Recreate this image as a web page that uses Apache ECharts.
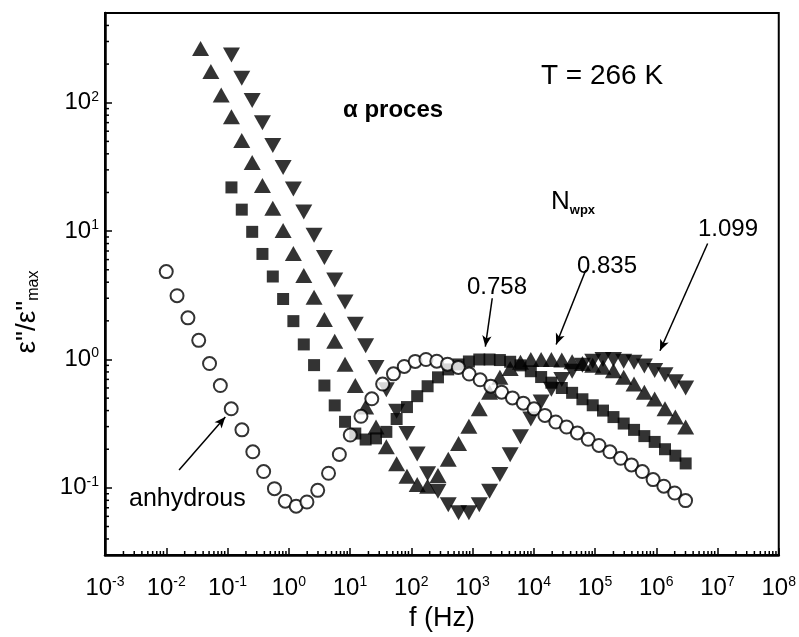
<!DOCTYPE html>
<html>
<head>
<meta charset="utf-8">
<script src="https://cdn.jsdelivr.net/npm/echarts@6/dist/echarts.min.js"></script>
<style>
  html, body { margin: 0; padding: 0; background: #fff; }
  #chart { width: 799px; height: 637px; }
</style>
</head>
<body>
<div id="chart"></div>
<script>
// anhydrous sample, frequency grid of the measurement (Hz)
const freqAnhydrous = [0.01, 0.0150, 0.0226, 0.0339, 0.0509, 0.0764, 0.115, 0.172, 0.259, 0.389,
  0.584, 0.877, 1.32, 1.98, 2.97, 4.46, 6.70, 10.1, 15.1, 22.7, 34.1, 51.2, 76.9, 116, 174, 261,
  391, 588, 883, 1330, 1990, 2990, 4490, 6750, 10100, 15200, 22900, 34300, 51500, 77400, 116000,
  175000, 262000, 394000, 592000, 888000, 1330000, 2000000, 3010000];
const anhydrous = [4.84, 3.14, 2.11, 1.41, 0.93, 0.627, 0.413, 0.283, 0.191, 0.134, 0.0986, 0.0787,
  0.072, 0.0776, 0.0957, 0.130, 0.182, 0.258, 0.361, 0.494, 0.644, 0.773, 0.883, 0.966, 1.0, 0.97,
  0.92, 0.867, 0.77, 0.695, 0.62, 0.556, 0.502, 0.457, 0.413, 0.367, 0.326, 0.298, 0.268, 0.239,
  0.214, 0.191, 0.170, 0.151, 0.134, 0.116, 0.103, 0.0912, 0.0796];

// hydrated samples, frequency grid (Hz)
const freqHydrated = [0.0363, 0.0535, 0.0789, 0.116, 0.171, 0.253, 0.372, 0.549, 0.809, 1.19,
  1.76, 2.59, 3.82, 5.63, 8.30, 12.2, 18.0, 26.6, 39.2, 57.7, 85.1, 125, 185, 273, 402, 592, 873,
  1290, 1900, 2800, 4120, 6070, 8950, 13200, 19400, 28700, 42300, 62300, 91800, 135000, 200000,
  294000, 434000, 639000, 942000, 1390000, 2050000, 3020000];
const nwpx0758 = [null, null, null, 21.9, 14.7, 9.87, 6.64, 4.43, 2.96, 1.99, 1.31, 0.904, 0.627,
  0.439, 0.327, 0.265, 0.238, 0.243, 0.273, 0.344, 0.426, 0.518, 0.619, 0.726, 0.837, 0.915, 0.965,
  1.0, 1.0, 0.99, 0.96, 0.90, 0.81, 0.73, 0.66, 0.60, 0.55, 0.49, 0.44, 0.40, 0.356, 0.317, 0.283,
  0.253, 0.228, 0.20, 0.178, 0.155];
const nwpx0835 = [264, 175, 115, 77.6, 50.9, 34.2, 22.7, 15.1, 10.1, 6.70, 4.51, 3.05, 2.05, 1.39,
  0.92, 0.627, 0.426, 0.298, 0.209, 0.154, 0.123, 0.106, 0.103, 0.125, 0.167, 0.222, 0.302, 0.413,
  0.556, 0.726, 0.85, 0.95, 1.0, 1.0, 1.0, 0.99, 0.96, 0.93, 0.90, 0.87, 0.818, 0.726, 0.644, 0.556,
  0.493, 0.413, 0.356, 0.298];
const nwpx1099 = [null, null, null, 235, 155, 104, 69.7, 46.5, 31.3, 21.3, 14.1, 9.29, 6.24, 4.17,
  2.80, 1.88, 1.28, 0.867, 0.581, 0.396, 0.265, 0.184, 0.129, 0.094, 0.074, 0.064, 0.064, 0.074,
  0.094, 0.127, 0.181, 0.25, 0.344, 0.466, 0.586, 0.70, 0.81, 0.90, 0.97, 1.0, 1.0, 0.97, 0.95,
  0.89, 0.82, 0.76, 0.67, 0.60];

// annotation arrows: [from, to] in data coordinates (f, eps''/eps''max)
const arrowNotes = [
  [[2100, 3.0], [1620, 1.26]],
  [[70800, 4.98], [23200, 1.31]],
  [[6.9e6, 8.0], [1.15e6, 1.17]],
  [[0.0162, 0.138], [0.092, 0.356]]
];

const FONT = '"Liberation Sans", Arial, Helvetica, sans-serif';

function pairs(fs, vs) {
  const out = [];
  vs.forEach((v, i) => { if (v != null) out.push([fs[i], v]); });
  return out;
}

function powLabel(v) {
  const e = Math.log10(v);
  const r = Math.round(e);
  if (Math.abs(e - r) > 1e-6) return '';
  return '{b|10}{s|' + r + '}';
}

const labelRich = {
  b: { fontSize: 24, fontFamily: FONT, color: '#000', lineHeight: 26 },
  s: { fontSize: 14, fontFamily: FONT, color: '#000', lineHeight: 26, verticalAlign: 'top' }
};

// minor tick positions of the log axes
const xMinor = [];
for (let n = -3; n <= 7; n++) for (let m = 2; m <= 9; m++) xMinor.push(m * Math.pow(10, n));
const yMinor = [];
for (let n = -2; n <= 2; n++) for (let m = 2; m <= 9; m++) {
  const v = m * Math.pow(10, n);
  if (v > 0.03 && v < 500) yMinor.push(v);
}

const chart = echarts.init(document.getElementById('chart'));

const option = {
  animation: false,
  backgroundColor: '#fff',
  grid: {
    left: 105, right: 12, top: 13, bottom: 79,
    show: true, borderColor: '#000', borderWidth: 2, backgroundColor: 'transparent'
  },
  xAxis: {
    type: 'log',
    logBase: 10,
    min: 0.001,
    max: 1e8,
    interval: 1,
    splitNumber: 11,
    name: 'f (Hz)',
    nameLocation: 'middle',
    nameGap: 50,
    nameTextStyle: { fontSize: 27, fontFamily: FONT, color: '#000' },
    axisLine: { lineStyle: { color: '#000', width: 2.5 } },
    axisTick: { inside: true, length: 7, lineStyle: { color: '#000', width: 1.5 } },
    axisLabel: { margin: 20, formatter: powLabel, rich: labelRich },
    splitLine: { show: false }
  },
  yAxis: {
    type: 'log',
    logBase: 10,
    min: 0.03,
    max: 500,
    axisLine: { lineStyle: { color: '#000', width: 2.5 } },
    axisTick: { inside: true, length: 7, lineStyle: { color: '#000', width: 1.5 } },
    axisLabel: { margin: 6, formatter: powLabel, rich: labelRich },
    splitLine: { show: false }
  },
  graphic: [
    {
      type: 'text', x: 27, y: 312, rotation: Math.PI / 2,
      style: {
        text: '{a|ε"/ε"}{m|max}',
        align: 'center', verticalAlign: 'middle',
        rich: {
          a: { fontSize: 28, fontFamily: FONT, fill: '#000', lineHeight: 30 },
          m: { fontSize: 16, fontFamily: FONT, fill: '#000', lineHeight: 30, verticalAlign: 'bottom' }
        }
      }
    },
    { type: 'text', x: 602, y: 76, style: { text: 'T = 266 K', font: '28px ' + FONT, fill: '#000', align: 'center', verticalAlign: 'middle' } },
    { type: 'text', x: 343, y: 110, style: { text: 'α proces', font: 'bold 24px ' + FONT, fill: '#000', align: 'left', verticalAlign: 'middle' } },
    {
      type: 'text', x: 551, y: 202,
      style: {
        text: '{n|N}{s|wpx}', align: 'left', verticalAlign: 'middle',
        rich: {
          n: { fontSize: 26, fontFamily: FONT, fill: '#000', lineHeight: 30 },
          s: { fontSize: 13, fontWeight: 'bold', fontFamily: FONT, fill: '#000', lineHeight: 30, verticalAlign: 'bottom' }
        }
      }
    },
    { type: 'text', x: 728, y: 229, style: { text: '1.099', font: '24px ' + FONT, fill: '#000', align: 'center', verticalAlign: 'middle' } },
    { type: 'text', x: 607, y: 266, style: { text: '0.835', font: '24px ' + FONT, fill: '#000', align: 'center', verticalAlign: 'middle' } },
    { type: 'text', x: 497, y: 287, style: { text: '0.758', font: '24px ' + FONT, fill: '#000', align: 'center', verticalAlign: 'middle' } },
    { type: 'text', x: 129, y: 499, style: { text: 'anhydrous', font: '25px ' + FONT, fill: '#000', align: 'left', verticalAlign: 'middle' } }
  ],
  series: [
    {
      type: 'custom',
      silent: true,
      data: xMinor.map(v => [v, 1]),
      renderItem: function (params, api) {
        const p = api.coord([api.value(0), 1]);
        const y0 = params.coordSys.y + params.coordSys.height;
        return { type: 'line', shape: { x1: p[0], y1: y0, x2: p[0], y2: y0 - 4 }, style: { stroke: '#000', lineWidth: 1.5 } };
      },
      z: 10
    },
    {
      type: 'custom',
      silent: true,
      data: yMinor.map(v => [1, v]),
      renderItem: function (params, api) {
        const p = api.coord([1, api.value(1)]);
        const x0 = params.coordSys.x;
        return { type: 'line', shape: { x1: x0, y1: p[1], x2: x0 + 4, y2: p[1] }, style: { stroke: '#000', lineWidth: 1.5 } };
      },
      z: 10
    },
    {
      name: '0.758',
      type: 'scatter',
      data: pairs(freqHydrated, nwpx0758),
      symbol: 'rect',
      symbolSize: 12,
      itemStyle: { color: '#000' }
    },
    {
      name: '0.835',
      type: 'scatter',
      data: pairs(freqHydrated, nwpx0835),
      symbol: 'triangle',
      symbolSize: [17, 15],
      itemStyle: { color: '#000' }
    },
    {
      name: '1.099',
      type: 'scatter',
      data: pairs(freqHydrated, nwpx1099),
      symbol: 'triangle',
      symbolRotate: 180,
      symbolSize: [17, 15],
      itemStyle: { color: '#000' }
    },
    {
      name: 'anhydrous',
      type: 'scatter',
      data: pairs(freqAnhydrous, anhydrous),
      symbol: 'circle',
      symbolSize: 13,
      itemStyle: { color: '#fff', borderColor: '#000', borderWidth: 2 },
      markLine: {
        silent: true,
        symbol: ['none', 'arrow'],
        symbolSize: [7, 11],
        label: { show: false },
        lineStyle: { color: '#000', width: 1.5, type: 'solid' },
        data: arrowNotes.map(a => [{ coord: a[0] }, { coord: a[1] }])
      }
    }
  ]
};

chart.setOption(option);
</script>
</body>
</html>
